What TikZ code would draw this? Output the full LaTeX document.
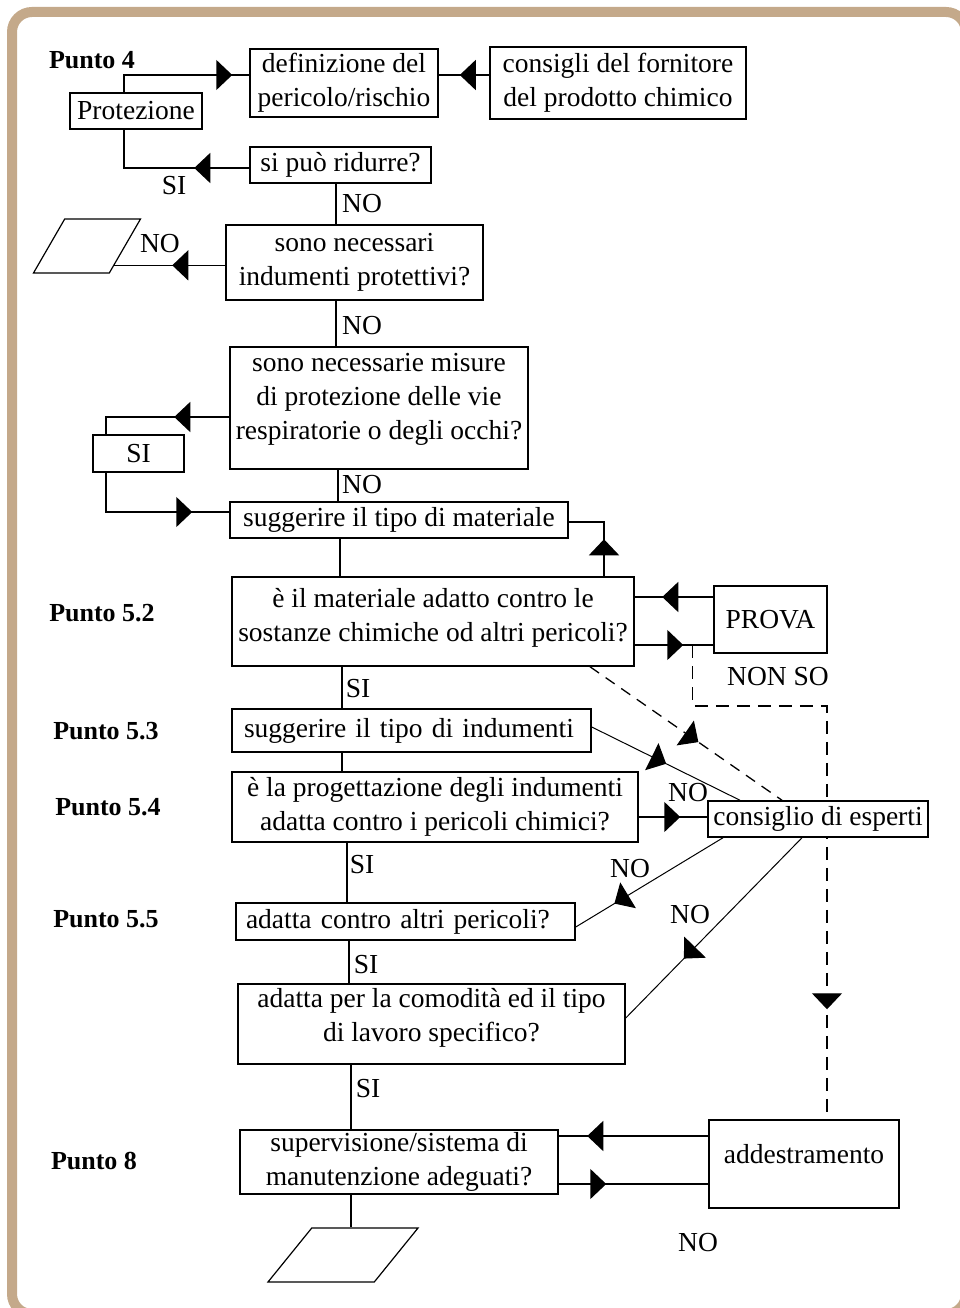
\documentclass[tikz,border=0pt]{standalone}
\usepackage{fontspec}
\setmainfont{Liberation Serif}
\usetikzlibrary{shapes.geometric, arrows.meta, decorations.markings, backgrounds, calc}
\definecolor{frametan}{HTML}{C4A98A}
\newcommand{\lifted}[2]{\raisebox{#1}[\height][\depth]{\begin{tabular}{@{}c@{}}#2\end{tabular}}}

\begin{document}
\begin{tikzpicture}[x=1pt, y=-1pt, font=\fontsize{27.5}{34}\selectfont,
    box/.style={draw, fill=white, line width=1.5pt, align=center, inner sep=0pt},
    lbox/.style={box, align=left, text width=#1},
    para/.style={draw, line width=1.2pt, trapezium, trapezium left angle=55,
        trapezium right angle=125, trapezium stretches=true,
        minimum height=54pt, inner sep=1pt},
    punto/.style={font=\fontsize{26}{30}\selectfont\bfseries, inner sep=0pt},
    lbl/.style={inner sep=0pt},
    wire/.style={line width=1.5pt},
    fine/.style={line width=1pt},
    dashline/.style={line width=1.3pt, dash pattern=on 13pt off 8pt},
    arrowat/.style={postaction={decorate, decoration={markings,
        mark=at position #1 with {\arrow{Triangle[length=16pt, width=30pt]}}}}}
]
\useasboundingbox (0,0) rectangle (960,1308);
\draw[line width=10pt, frametan, rounded corners=20pt] (12,12) rectangle (966,1314);

\node[punto] (p4)  at (92,60)   {Punto 4};
\node[punto] (p52) at (102,613) {Punto 5.2};
\node[punto] (p53) at (106,731) {Punto 5.3};
\node[punto] (p54) at (108,807) {Punto 5.4};
\node[punto] (p55) at (106,919) {Punto 5.5};
\node[punto] (p8)  at (94,1161) {Punto 8};

\node[box, minimum width=132pt, minimum height=36pt] (prot) at (136,111) {Protezione};
\node[box, minimum width=188pt, minimum height=68pt] (defin) at (344,83) {definizione del\\pericolo/rischio};
\node[box, minimum width=256pt, minimum height=72pt] (forn) at (618,83) {consigli del fornitore\\del prodotto chimico};
\node[box, minimum width=181pt, minimum height=36pt] (ridurre) at (340.5,165) {si può ridurre?};
\node[box, minimum width=257pt, minimum height=75pt] (indum) at (354.5,262.5) {sono necessari\\indumenti protettivi?};
\node[para, minimum width=107pt] (end1) at (87,246) {};
\node[box, minimum width=298pt, minimum height=122pt] (misure) at (379,408) {\lifted{9pt}{sono necessarie misure\\di protezione delle vie\\respiratorie o degli occhi?}};
\node[box, minimum width=91pt, minimum height=37pt] (si) at (138.5,453.5) {SI};
\node[box, minimum width=338pt, minimum height=36pt] (mater) at (399,520) {suggerire il tipo di materiale};
\node[box, minimum width=402pt, minimum height=89pt] (adatto) at (433,621.5) {\lifted{4pt}{è il materiale adatto contro le\\sostanze chimiche od altri pericoli?}};
\node[box, minimum width=113pt, minimum height=67pt] (prova) at (770.5,619.5) {PROVA};
\node[lbox=335pt, minimum width=359pt, minimum height=43pt] (indu) at (411.5,730.5) {suggerire il tipo di indumenti};
\node[box, minimum width=406pt, minimum height=70pt] (prog) at (435,807) {è la progettazione degli indumenti\\adatta contro i pericoli chimici?};
\node[box, minimum width=220pt, minimum height=36pt] (esperti) at (818,819) {consiglio di esperti};
\node[lbox=319pt, minimum width=339pt, minimum height=37pt] (altri) at (405.5,921.5) {adatta contro altri pericoli?};
\node[box, minimum width=387pt, minimum height=80pt] (comod) at (431.5,1024) {\lifted{6pt}{adatta per la comodità ed il tipo\\di lavoro specifico?}};
\node[box, minimum width=318pt, minimum height=64pt] (superv) at (399,1162) {supervisione/sistema di\\manutenzione adeguati?};
\node[box, minimum width=190pt, minimum height=88pt] (addestr) at (804,1164) {\lifted{7pt}{addestramento}};
\node[para, minimum width=150pt] (end2) at (343,1255) {};

\foreach \t/\x/\y [count=\i] in {SI/174/186, NO/362/204, NO/160/244, NO/362/326,
    NO/362/485, SI/358/689, NON SO/778/677, NO/688/793, SI/362/865, NO/630/869,
    NO/690/915, SI/366/965, SI/368/1089, NO/698/1243}
    \node[lbl] (tag\i) at (\x,\y) {\t};

\begin{scope}[on background layer]
\draw[wire, arrowat=-17pt] ([xshift=-12pt]prot.north) |- ([yshift=8pt]defin.west);
\draw[wire, arrowat=-21pt] ([yshift=8pt]forn.west) -- ([yshift=8pt]defin.east);
\draw[wire, arrowat=55pt] ([yshift=-3pt]ridurre.west) -| ([xshift=-12pt]prot.south);
\coordinate (e1in) at ($(end1.bottom right corner)!0.15!(end1.top right corner)$);
\draw[wire, arrowat=53pt] (indum.west |- e1in) -- (e1in);
\draw[wire, arrowat=55pt] ([yshift=-9pt]misure.west) -| ([xshift=-32.5pt]si.north);
\draw[wire, arrowat=-37pt] ([xshift=-32.5pt]si.south) |- ([yshift=8pt]mater.west);
\draw[wire, arrowat=37pt] ([xshift=171pt]adatto.north) |- ([yshift=-2pt]mater.east);
\draw[wire, arrowat=51pt] ([yshift=22.5pt]prova.west) -- ([yshift=22.5pt]prova.west -| adatto.east);
\draw[wire, arrowat=-30pt] ([yshift=-23.5pt]adatto.east) -- ([yshift=-23.5pt]adatto.east -| prova.west);
\coordinate (nonso) at ([xshift=58pt, yshift=-23.5pt]adatto.east);
\draw[dashline, arrowat=-110pt] (nonso) -- ++(0,61) -| ([xshift=23pt]addestr.north);
\draw[dashline, dash pattern=on 11pt off 8pt, arrowat=132pt] ([xshift=157pt]adatto.south) -- ([xshift=-36pt]esperti.north);
\draw[fine, arrowat=83pt] ([yshift=3.5pt]indu.east) -- ([xshift=-78pt]esperti.north);
\draw[wire, arrowat=-27pt] ([yshift=-10pt]prog.east) -- ([yshift=-10pt]prog.east -| esperti.west);
\draw[fine, arrowat=127pt] ([xshift=-95pt]esperti.south) -- ([yshift=-5.5pt]altri.east);
\draw[fine, arrowat=169pt] ([xshift=-16pt]esperti.south) -- ([yshift=6pt]comod.east);
\draw[wire, arrowat=121pt] ([yshift=28pt]addestr.west) -- ([yshift=28pt]addestr.west -| superv.east);
\draw[wire, arrowat=-102pt] ([yshift=-22pt]superv.east) -- ([yshift=-22pt]superv.east -| addestr.west);
\foreach \a/\b/\s in {ridurre/indum/-4.5, indum/misure/-18.5, misure/mater/-41,
    mater/adatto/-59, adatto/indu/-91, indu/prog/-69.5, prog/altri/-88,
    altri/comod/-56.5, comod/superv/-80.5, superv/end2/-48}
    \draw[wire] ([xshift=\s pt]\a.south) -- ([xshift=\s pt]\a.south |- \b.north);
\end{scope}
\end{tikzpicture}
\end{document}
